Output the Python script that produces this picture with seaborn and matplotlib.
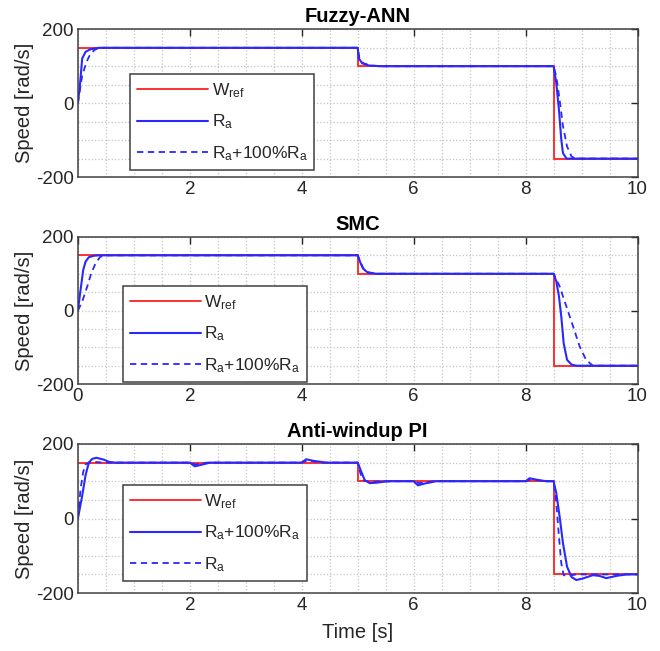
import numpy as np
import pandas as pd
import matplotlib
matplotlib.use('Agg')
import matplotlib.pyplot as plt
from matplotlib.ticker import MultipleLocator
import seaborn as sns

# reference speed (same for all three controllers)
t_ref = [0, 5, 5, 8.5, 8.5, 10]
w_ref = [150, 150, 100, 100, -150, -150]

# Fuzzy-ANN responses
fz_t_solid = [0, 0.036, 0.077, 0.137, 0.226, 0.375, 5.0, 5.02, 5.08, 5.2, 5.4,
              8.5, 8.547, 8.595, 8.637, 8.667, 8.73, 10]
fz_v_solid = [0, 48, 121, 139, 146, 150, 150, 121, 108, 102, 100,
              100, 55, -17, -98, -135, -150, -150]
fz_t_dash = [0, 0.077, 0.155, 0.226, 0.315, 0.405, 5.0, 5.03, 5.1, 5.22, 5.45,
             8.5, 8.547, 8.607, 8.667, 8.74, 8.82, 8.88, 10]
fz_v_dash = [0, 75, 112, 134, 146, 150, 150, 122, 108, 102, 100,
             100, 73, 10, -62, -117, -144, -150, -150]

# SMC responses
smc_t_solid = [0, 0.048, 0.095, 0.137, 0.196, 0.286, 0.375, 5.0, 5.048, 5.095, 5.18, 5.33,
               8.5, 8.547, 8.595, 8.637, 8.68, 8.74, 8.82, 8.905, 10]
smc_v_solid = [0, 56, 110, 133, 145, 149, 150, 150, 130, 114, 103, 100,
               100, 80, 39, -16, -89, -134, -147, -150, -150]
smc_t_dash = [0, 0.077, 0.167, 0.238, 0.315, 0.393, 0.464, 5.0, 5.05, 5.1, 5.19, 5.35,
              8.5, 8.607, 8.726, 8.845, 8.964, 9.08, 9.2, 10]
smc_v_dash = [0, 24, 65, 101, 128, 145, 150, 150, 131, 115, 104, 100,
              100, 66, 12, -42, -97, -134, -150, -150]

# Anti-windup PI responses
pi_t_solid = [0, 0.077, 0.137, 0.196, 0.256, 0.33, 0.464, 0.554, 0.67,
              2.0, 2.09, 2.2, 2.36, 4.0, 4.08, 4.2, 4.44,
              5.0, 5.065, 5.125, 5.214, 5.33, 5.48, 5.6,
              6.0, 6.077, 6.2, 6.4, 8.0, 8.07, 8.2, 8.37,
              8.5, 8.547, 8.607, 8.667, 8.74, 8.82, 8.905, 9.02, 9.2, 9.32, 9.44, 9.62, 9.8, 10]
pi_v_solid = [0, 61, 116, 150, 160, 163, 158, 152, 150,
              150, 140, 144, 150, 150, 159, 155, 150,
              150, 125, 103, 95, 96, 99, 100,
              100, 89, 94, 100, 100, 108, 104, 100,
              100, 69, 6, -66, -129, -157, -165, -161, -152, -154, -160, -154, -150, -150]
pi_t_dash = [0, 0.048, 0.095, 0.137, 0.196, 0.3, 0.45,
             2.0, 2.1, 2.3, 4.0, 4.1, 4.35,
             5.0, 5.05, 5.1, 5.2, 5.4,
             6.0, 6.1, 6.35, 8.0, 8.1, 8.35,
             8.5, 8.547, 8.595, 8.637, 8.68, 8.76, 8.9, 10]
pi_v_dash = [0, 80, 125, 145, 150, 152, 150,
             150, 145, 150, 150, 156, 150,
             150, 120, 103, 98, 100,
             100, 95, 100, 100, 105, 100,
             100, 42, -48, -120, -152, -154, -150, -150]

panels = [
    ('Fuzzy-ANN', fz_t_solid, fz_v_solid, fz_t_dash, fz_v_dash,
     ['$\\mathregular{W_{ref}}$', '$\\mathregular{R_a}$', '$\\mathregular{R_a}$+100%$\\mathregular{R_a}$']),
    ('SMC', smc_t_solid, smc_v_solid, smc_t_dash, smc_v_dash,
     ['$\\mathregular{W_{ref}}$', '$\\mathregular{R_a}$', '$\\mathregular{R_a}$+100%$\\mathregular{R_a}$']),
    ('Anti-windup PI', pi_t_solid, pi_v_solid, pi_t_dash, pi_v_dash,
     ['$\\mathregular{W_{ref}}$', '$\\mathregular{R_a}$+100%$\\mathregular{R_a}$', '$\\mathregular{R_a}$']),
]

sns.set_style('white')
plt.rcParams['font.family'] = ['Liberation Sans', 'DejaVu Sans']
plt.rcParams['axes.unicode_minus'] = False
ink = '#262626'

fig = plt.figure(figsize=(6.6, 6.51), dpi=100)
boxes = [(0.118, 0.728, 0.848, 0.227), (0.118, 0.410, 0.848, 0.226), (0.118, 0.089, 0.848, 0.229)]
leg_pos = [(0.093, 0.047), (0.080, 0.014), (0.080, 0.080)]

for i, (title, ts, vs, td, vd, labels) in enumerate(panels):
    ax = fig.add_axes(boxes[i])
    sns.lineplot(x=t_ref, y=w_ref, ax=ax, color='#ff2020', lw=1.3, sort=False,
                 estimator=None, label=labels[0])
    sns.lineplot(x=ts, y=vs, ax=ax, color='#2828ff', lw=1.5, sort=False,
                 estimator=None, label=labels[1])
    sns.lineplot(x=td, y=vd, ax=ax, color='#2828ff', lw=1.3, ls=(0, (3.5, 2.5)), sort=False,
                 estimator=None, label=labels[2])
    ax.set_xlim(0, 10)
    ax.set_ylim(-200, 200)
    if i == 1:
        ax.set_xticks([0, 2, 4, 6, 8, 10])
    else:
        ax.set_xticks([2, 4, 6, 8, 10])
    ax.set_yticks([-200, 0, 200])
    ax.xaxis.set_minor_locator(MultipleLocator(0.5))
    ax.yaxis.set_minor_locator(MultipleLocator(50))
    ax.grid(True, which='both', ls=':', color='#c4c4c4', lw=0.9)
    ax.tick_params(which='major', direction='in', length=5, width=1, colors=ink,
                   labelsize=13.5, top=True, right=True, pad=3)
    ax.tick_params(which='minor', length=0)
    for sp in ax.spines.values():
        sp.set_color('#404040')
        sp.set_linewidth(1.1)
    ax.set_title(title, fontsize=14.5, fontweight='bold', pad=5, color='black')
    ax.set_ylabel('Speed [rad/s]', fontsize=14.5, color=ink, labelpad=1)
    ax.set_xlabel('')
    leg = ax.legend(loc='lower left', bbox_to_anchor=leg_pos[i], borderaxespad=0,
                    fontsize=12.5, handlelength=4.1, handletextpad=0.2,
                    labelspacing=0.75, fancybox=False, framealpha=1,
                    edgecolor='#404040', borderpad=0.4)
    leg.get_frame().set_linewidth(1.1)
    if i == 2:
        ax.set_xlabel('Time [s]', fontsize=14.5, color=ink, labelpad=6)

fig.savefig('out.png', dpi=100)
